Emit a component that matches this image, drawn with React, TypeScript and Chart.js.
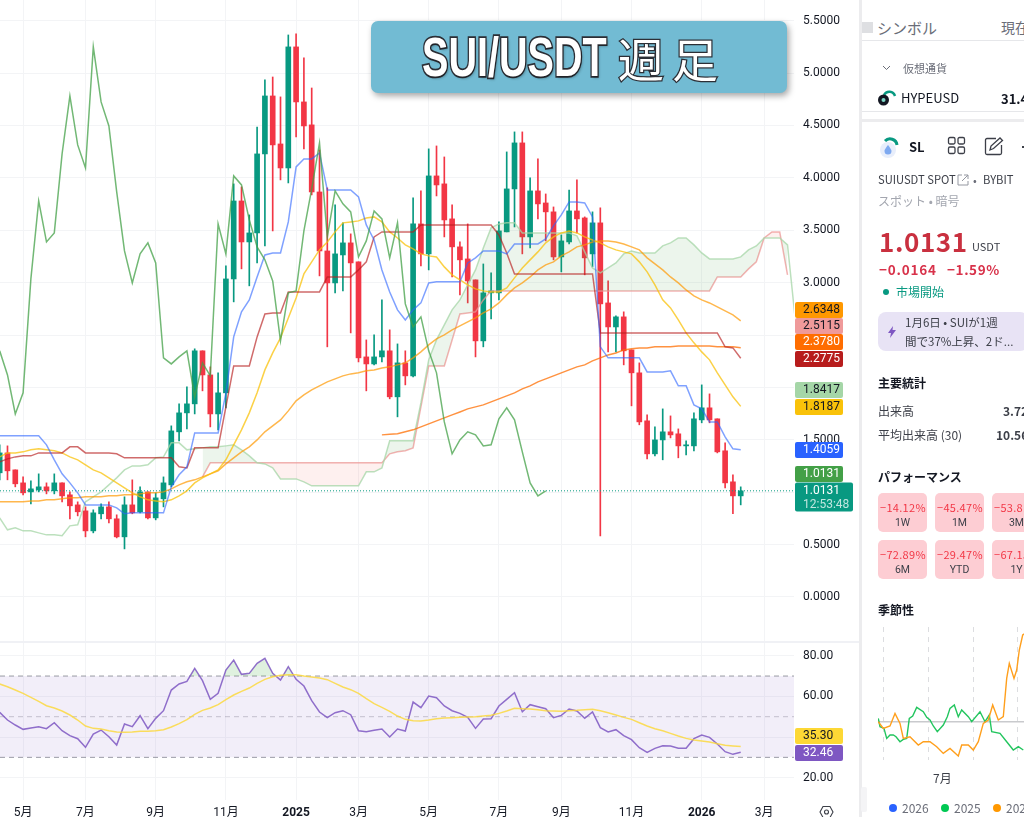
import React, { useEffect, useRef } from "react";
import { Chart, registerables } from "chart.js";

Chart.register(...registerables);

// ---- main pane: weekly candles, first bar is index -1 ----
const opens = [1.185,1.375,1.213,1.089,1.003,1.022,1.051,1.013,1.089,.975,.879,.822,.631,.794,.860,.746,.574,.879,.813,1.003,.755,.937,1.070,1.576,1.757,1.843,2.349,2.119,1.747,1.948,3.035,3.779,3.388,3.474,4.228,4.781,4.323,4.094,5.249,4.724,4.505,3.865,3.302,2.997,3.264,3.379,3.198,2.291,2.224,2.291,2.349,1.910,2.234,2.110,3.560,3.274,4.018,3.942,3.608,3.341,3.226,3.026,2.444,2.902,2.902,3.484,3.894,4.333,3.436,3.875,3.760,3.675,3.245,3.388,3.684,3.617,3.274,3.570,2.806,2.577,2.673,2.358,2.139,1.681,1.366,1.499,1.576,1.557,1.442,1.442,1.690,1.805,1.700,1.395,1.099,.965];
const highs = [1.452,1.442,1.213,1.146,1.108,1.175,1.089,1.175,1.089,1.003,.908,.860,.832,.889,.908,.784,.956,1.118,1.051,1.003,.994,1.146,1.633,1.843,2.005,2.368,2.349,2.196,2.139,3.159,3.942,3.913,3.646,4.485,4.934,4.962,4.772,5.363,5.373,5.144,4.857,4.266,3.904,3.741,3.570,3.465,3.198,2.453,2.501,2.835,2.549,2.415,2.349,3.808,3.875,4.276,4.304,4.199,3.741,3.388,3.560,3.026,3.178,3.093,3.579,4.247,4.438,4.438,3.999,4.180,3.846,3.722,3.455,3.884,3.980,3.627,3.675,3.713,3.016,2.682,2.721,2.358,2.234,1.738,1.623,1.795,1.728,1.604,1.490,1.757,2.024,1.938,1.700,1.471,1.166,1.051];
const lows = [1.118,1.118,1.051,.975,.889,1.003,.984,.984,.908,.746,.774,.574,.612,.746,.708,.564,.459,.794,.803,.746,.736,.860,1.051,1.490,1.604,1.747,1.967,1.623,1.595,1.805,2.816,3.131,2.969,3.188,3.350,3.493,3.980,3.951,4.390,4.276,3.837,3.064,2.387,2.902,2.921,2.520,2.243,1.967,2.215,2.243,1.891,1.719,2.024,2.100,3.159,3.121,3.827,3.436,3.054,2.883,2.806,2.291,2.387,2.654,2.835,3.484,3.531,3.274,3.331,3.608,3.398,3.217,3.102,3.369,3.474,3.074,3.150,.584,2.339,2.339,2.215,1.824,1.643,1.318,1.347,1.309,1.518,1.328,1.356,1.395,1.662,1.662,1.375,1.041,.794,.879];
const closes = [1.375,1.204,1.080,.994,1.032,1.051,1.013,1.089,.965,.870,.813,.631,.803,.860,.746,.574,.879,.803,1.003,.755,.946,1.089,1.585,1.757,1.843,2.349,2.119,1.747,1.948,3.035,3.779,3.388,3.474,4.228,4.781,4.314,4.094,5.249,4.724,4.495,3.865,3.302,2.997,3.274,3.379,3.188,2.282,2.224,2.291,2.349,1.910,2.234,2.110,3.560,3.274,4.018,3.932,3.598,3.341,3.217,3.016,2.444,2.902,2.921,3.493,3.894,4.333,3.436,3.875,3.751,3.675,3.245,3.398,3.684,3.608,3.236,3.570,2.797,2.577,2.673,2.349,2.139,1.671,1.366,1.499,1.576,1.547,1.442,1.452,1.700,1.805,1.690,1.385,1.089,.965,1.0131];

const conversionLine = [1.538,1.538,1.538,1.538,1.538,1.538,1.452,1.309,1.175,1.089,.994,.879,.879,.879,.879,.851,.794,.803,.803,.803,.803,.803,1.051,1.166,1.242,1.566,1.566,1.566,1.566,1.948,2.482,2.721,2.835,3.054,3.264,3.283,3.283,3.579,4.104,4.18,4.18,4.237,3.884,3.884,3.884,3.884,3.818,3.55,3.407,3.121,2.911,2.74,2.644,2.74,2.806,2.997,3.007,3.007,3.007,3.007,3.188,3.236,3.302,3.302,3.302,3.274,3.369,3.369,3.369,3.369,3.417,3.541,3.646,3.77,3.77,3.76,3.627,2.387,2.282,2.282,2.282,2.282,2.282,2.148,2.148,2.148,2.158,2.015,2.015,1.833,1.795,1.671,1.671,1.528,1.414,1.4059];
const baseLine = [1.289,1.318,1.337,1.347,1.347,1.375,1.375,1.375,1.375,1.433,1.433,1.375,1.375,1.375,1.375,1.366,1.328,1.328,1.328,1.328,1.328,1.328,1.328,1.242,1.232,1.423,1.423,1.423,1.423,1.814,2.205,2.205,2.205,2.482,2.701,2.711,2.711,2.911,2.911,2.911,2.911,2.911,3.054,3.054,3.054,3.054,3.121,3.198,3.436,3.484,3.484,3.484,3.484,3.484,3.55,3.55,3.55,3.55,3.55,3.55,3.55,3.55,3.55,3.55,3.455,3.283,3.083,3.083,3.083,3.083,3.083,3.083,3.083,3.083,3.083,3.083,3.083,2.52,2.52,2.52,2.52,2.52,2.52,2.52,2.52,2.52,2.52,2.52,2.52,2.52,2.52,2.52,2.52,2.387,2.377,2.2775];
const fastAverage = [1.337,1.375,1.375,1.385,1.404,1.414,1.404,1.395,1.375,1.337,1.309,1.261,1.213,1.185,1.137,1.089,1.041,.994,.956,.927,.917,.908,.927,.965,1.013,1.089,1.137,1.175,1.213,1.309,1.452,1.595,1.757,1.948,2.167,2.329,2.472,2.663,2.854,3.083,3.198,3.312,3.388,3.484,3.57,3.579,3.589,3.617,3.627,3.579,3.484,3.426,3.36,3.322,3.274,3.255,3.245,3.15,3.074,3.026,2.978,2.94,2.921,2.911,2.911,2.95,3.045,3.14,3.217,3.293,3.379,3.436,3.474,3.493,3.474,3.436,3.407,3.379,3.341,3.312,3.293,3.274,3.198,3.102,2.978,2.835,2.759,2.644,2.52,2.425,2.339,2.263,2.139,2.024,1.91,1.8187];
const midAverage = [.908,.908,.908,.908,.917,.917,.927,.927,.937,.946,.946,.956,.956,.956,.965,.965,.975,.975,.984,.994,.994,1.003,1.032,1.07,1.099,1.118,1.146,1.175,1.204,1.27,1.328,1.385,1.433,1.499,1.576,1.633,1.69,1.776,1.872,1.929,1.976,2.015,2.053,2.081,2.11,2.129,2.139,2.158,2.167,2.186,2.196,2.215,2.234,2.282,2.339,2.406,2.463,2.501,2.549,2.587,2.625,2.663,2.711,2.749,2.806,2.883,2.95,2.997,3.054,3.121,3.169,3.198,3.255,3.293,3.341,3.36,3.388,3.398,3.398,3.388,3.369,3.341,3.312,3.236,3.178,3.121,3.054,2.997,2.93,2.873,2.835,2.806,2.768,2.73,2.692,2.6348];
// starts at bar 48
const slowAverage = [1.547,1.552,1.557,1.576,1.595,1.623,1.652,1.681,1.709,1.738,1.766,1.795,1.814,1.833,1.862,1.891,1.919,1.948,1.986,2.015,2.053,2.081,2.11,2.139,2.167,2.196,2.215,2.253,2.282,2.31,2.329,2.358,2.368,2.377,2.377,2.387,2.387,2.387,2.396,2.396,2.396,2.396,2.396,2.387,2.387,2.387,2.378];
// cloud: span A from bar -1, span B from bar 25, both run past the last candle
const leadingSpanA = [.755,.641,.66,.631,.631,.612,.593,.593,.584,.679,.689,.908,.956,1.003,1.07,1.137,1.213,1.251,1.251,1.261,1.328,1.337,1.471,1.471,1.404,1.414,1.423,1.433,1.433,1.442,1.452,1.404,1.347,1.28,1.27,1.232,1.127,1.127,1.127,1.099,1.061,1.061,1.061,1.061,1.061,1.061,1.061,1.194,1.194,1.232,1.49,1.49,1.49,1.49,1.852,2.263,2.453,2.596,2.74,2.835,2.978,3.121,3.331,3.522,3.56,3.57,3.57,3.474,3.474,3.474,3.474,3.474,3.474,3.474,3.446,3.293,3.14,3.093,3.14,3.188,3.274,3.302,3.283,3.283,3.283,3.35,3.379,3.426,3.426,3.36,3.283,3.226,3.226,3.226,3.226,3.245,3.312,3.35,3.426,3.426,3.426,3.36,2.644];
const leadingSpanB = [1.146,1.28,1.28,1.28,1.28,1.28,1.28,1.28,1.28,1.28,1.28,1.28,1.28,1.28,1.28,1.28,1.28,1.28,1.28,1.28,1.28,1.28,1.28,1.28,1.366,1.385,1.395,1.423,1.814,2.205,2.205,2.205,2.453,2.701,2.711,2.721,2.835,2.921,2.921,2.921,2.921,2.921,2.921,2.921,2.921,2.921,2.921,2.921,2.921,2.921,2.921,2.921,2.921,2.921,2.921,2.921,2.921,2.921,2.921,2.921,2.921,2.921,2.921,2.921,2.921,2.921,3.054,3.054,3.054,3.054,3.131,3.198,3.426,3.484,3.484,3.074];
const lastPrice = 1.0131;
const laggingShift = 25;

// ---- RSI pane ----
const rsiValues = [52.13,48.36,45.9,43.77,44.43,45.08,44.1,47.05,43.11,40.66,39.18,34.92,41.48,43.44,40.16,36.07,46.39,45.08,50.49,44.1,49.18,52.95,63.11,66.07,67.38,73.77,67.7,58.52,61.48,72.95,77.87,70.82,71.31,76.23,78.69,71.31,68.03,74.59,68.36,65.08,57.87,52.3,49.51,51.97,52.95,50.98,43.11,42.62,43.28,43.93,40,43.93,42.95,57.21,54.43,60.16,59.34,55.25,52.95,51.64,49.67,44.26,48.85,49.02,55.25,58.52,61.8,52.46,55.9,54.92,53.93,49.51,50.66,53.77,52.79,49.18,52.3,44.59,42.46,43.61,40.66,38.69,34.75,32.46,34.43,35.74,35.57,34.43,34.43,39.18,40.98,39.84,36.56,32.79,31.48,32.46];
const rsiAverage = [66.07,64.75,63.11,61.48,59.51,57.54,55.41,54.26,52.79,50.82,48.36,45.41,44.26,43.93,43.11,42.46,42.3,42.46,42.79,42.79,43.11,43.61,44.92,46.56,48.52,51.15,53.11,54.26,55.9,58.36,60.66,62.46,64.1,66.39,68.36,69.67,70.33,70.66,70.66,70,69.51,69.02,68.2,66.39,64.59,63.28,61.48,58.85,56.39,54.59,52.62,50.33,48.69,48.03,47.87,48.36,49.02,49.34,49.51,49.67,49.84,50,50.33,50.66,51.64,52.79,54.1,53.93,53.77,53.44,52.95,52.79,52.62,52.95,53.11,53.44,53.61,52.95,51.97,50.82,49.67,48.69,47.05,45.41,44.1,43.11,41.8,40.49,39.34,38.52,38.03,37.54,36.72,35.9,35.57,35.3];
const rsiBands = [70, 50, 30];

// ---- axes ----
const priceTicks = [0, .5, 1, 1.5, 2, 2.5, 3, 3.5, 4, 4.5, 5, 5.5];
const hiddenPriceLabels = [1, 2, 2.5];
const rsiTicks = [20, 40, 60, 80];
const hiddenRsiLabels = [40];
const timeTickBars = [2, 10, 19, 28, 37, 45, 54, 63, 71, 80, 89, 97];
const timeTickLabels = ["5月", "7月", "9月", "11月", "2025", "3月", "5月", "7月", "9月", "11月", "2026", "3月"];

// ---- price tags ----
const priceTagValues = [2.6348, 2.5115, 2.378, 2.2775, 1.8417, 1.8187, 1.4059, 1.0131];
const rsiTagValues = [35.3, 32.46];

// ---- seasonality mini chart ----
const seasonDays2025 = [.3,2,6,8.7,12,15.3,18,22,25.3,28.7,31.3,34.7,38.7,45.3,48.7,52,55.3,59.3,65.3,69.3,72,76.3,80.3,83.7,90.3,93.7,102,107,111.3,113.7,122,128.7,135.3,140.3,145.3];
const seasonValues2025 = [3.3,-5,-6.7,-16.7,-13.3,-13.3,-15,-20,-17.7,-16.7,3.3,5.7,14.3,10,4.3,1.7,-4.3,-10,-3.3,5,13.3,16.7,5,11.7,5,0,10,0,6.7,-10,-11.7,-20,-28.3,-25,-28.3];
const seasonDays2024 = [.3,5.3,12,17,22,25.3,32,40.3,45.3,52,58.7,65.3,72,80.3,83.7,90.3,95.3,100.3,105.3,110.3,114.7,120.3,125.3,128.7,131.3,136,138.7,141.3,144.7,147];
const seasonValues2024 = [0,-6.7,-4.3,8.3,-1.7,-16.7,-15,-23.3,-20,-20,-25,-31.7,-26.7,-34.3,-23.3,-23.3,-28.3,-20,-1.7,1.7,16.7,1.7,5,43.3,58.3,43.3,51.7,71.7,86.7,88.3];
const seasonMonthDays = [5, 50, 95, 139];

const performanceCards = [
  ["−14.12%", "1W"], ["−45.47%", "1M"], ["−53.81%", "3M"],
  ["−72.89%", "6M"], ["−29.47%", "YTD"], ["−67.15%", "1Y"],
];

const FONT = 'Roboto, "Noto Sans CJK JP", sans-serif';
const UP = "#089981";
const DOWN = "#f23645";
const GRID = "#f3f4f6";
const TEXT = "#131722";
const X_MIN = -0.96;
const X_MAX = 100.83;

const series = (start: number, values: number[]) => values.map((y, i) => ({ x: start + i, y }));

const line = (label: string, data: any[], color: string, extra: any = {}) => ({
  type: "line", label, data, borderColor: color, borderWidth: 1.5, pointRadius: 0, tension: 0, fill: false, order: 1, ...extra,
});

const tagPlugin = (tags: any[]) => ({
  id: "tags",
  afterDraw(chart: any) {
    const { ctx } = chart;
    ctx.save();
    ctx.textBaseline = "middle";
    ctx.font = `12px ${FONT}`;
    tags.forEach((t) => {
      ctx.fillStyle = t.bg;
      ctx.beginPath();
      ctx.roundRect(795, t.y - t.h / 2, t.w, t.h, 2);
      ctx.fill();
      ctx.fillStyle = t.fg;
      ctx.textAlign = "left";
      ctx.fillText(t.text, 803, t.textY ?? t.y);
      if (t.sub) {
        ctx.globalAlpha = 0.75;
        ctx.fillText(t.sub, 803, t.subY);
        ctx.globalAlpha = 1;
      }
    });
    ctx.restore();
  },
});

function useChart(ref: any, build: () => any) {
  useEffect(() => {
    const chart = new Chart(ref.current, build());
    return () => chart.destroy();
  }, []);
}

const noPadding = (s: any) => {
  s.paddingTop = 0;
  s.paddingBottom = 0;
  s.paddingLeft = 0;
  s.paddingRight = 0;
};

const timeAxis = (showLabels: boolean, height: number) => ({
  type: "linear",
  offset: false,
  min: X_MIN,
  max: X_MAX,
  border: { display: false },
  grid: { color: GRID, drawTicks: false, offset: false },
  afterBuildTicks: (s: any) => { s.ticks = timeTickBars.map((value) => ({ value })); },
  afterFit: (s: any) => { s.height = height; noPadding(s); },
  ticks: {
    display: showLabels,
    autoSkip: false,
    maxRotation: 0,
    padding: 6,
    color: TEXT,
    font: (c: any) => ({ family: FONT, size: 12, weight: timeTickLabels[c.index]?.length === 4 ? "bold" : "normal" }),
    callback: (_: any, i: number) => timeTickLabels[i],
  },
});

const valueAxis = (min: number, max: number, ticks: number[], hidden: number[], digits: number) => ({
  position: "right",
  min,
  max,
  border: { display: false },
  grid: { color: GRID, drawTicks: false },
  afterBuildTicks: (s: any) => { s.ticks = ticks.map((value) => ({ value })); },
  afterFit: (s: any) => { s.width = 66; noPadding(s); },
  ticks: {
    padding: 9,
    color: TEXT,
    font: { family: FONT, size: 12 },
    callback: (v: number) => (hidden.includes(v) ? "" : v.toFixed(digits)),
  },
});

const baseOptions = {
  responsive: false,
  animation: false,
  devicePixelRatio: 1,
  layout: { padding: 0 },
  plugins: { legend: { display: false }, tooltip: { enabled: false } },
  events: [],
};

function mainConfig() {
  const bars = closes.map((_, i) => i - 1);
  const colors = closes.map((c, i) => (c >= opens[i] ? UP : DOWN));
  const tagStyle = [
    { y: 310, bg: "#ff9800", fg: TEXT },
    { y: 326, bg: "#ef9a9a", fg: TEXT },
    { y: 342, bg: "#ff6d00", fg: "#fff" },
    { y: 359, bg: "#b71c1c", fg: "#fff" },
    { y: 390, bg: "#a5d6a7", fg: TEXT },
    { y: 407, bg: "#f9c20a", fg: TEXT },
    { y: 450, bg: "#2962ff", fg: "#fff" },
    { y: 474, bg: "#43a047", fg: "#fff" },
  ];
  const tags: any[] = priceTagValues.map((v, i) => ({ ...tagStyle[i], h: 16, w: 48, text: v.toFixed(4) }));
  tags.push({ y: 497, h: 29, w: 58, bg: UP, fg: "#fff", text: lastPrice.toFixed(4), textY: 491, sub: "12:53:48", subY: 505 });
  return {
    type: "bar",
    data: {
      datasets: [
        line("Span A", series(-1, leadingSpanA), "rgba(165,214,167,.75)", {
          fill: { target: 1, above: "rgba(67,160,71,.1)", below: "rgba(244,67,54,.08)" }, order: 2,
        }),
        line("Span B", series(25, leadingSpanB), "rgba(239,154,154,.75)", { order: 2 }),
        line("Lagging", series(-1, closes.slice(laggingShift)), "rgba(67,160,71,.75)"),
        line("Conversion", series(-1, conversionLine), "rgba(41,98,255,.6)"),
        line("Base", series(-1, baseLine), "rgba(183,28,28,.65)"),
        line("MA fast", series(-1, fastAverage), "rgba(249,194,10,.75)"),
        line("MA mid", series(-1, midAverage), "rgba(255,152,0,.7)"),
        line("MA slow", series(48, slowAverage), "rgba(255,109,0,.75)"),
        line("Last", [{ x: X_MIN, y: lastPrice }, { x: X_MAX, y: lastPrice }], UP, { borderWidth: 1, borderDash: [1, 2] }),
        {
          type: "bar", label: "Body", order: 3, grouped: false, barThickness: 5, backgroundColor: colors,
          data: bars.map((x, i) => ({ x, y: [opens[i], closes[i]] })),
        },
        {
          type: "bar", label: "Wick", order: 4, grouped: false, barThickness: 1, backgroundColor: colors,
          data: bars.map((x, i) => ({ x, y: [lows[i], highs[i]] })),
        },
      ],
    },
    options: {
      ...baseOptions,
      scales: { x: timeAxis(false, 0), y: valueAxis(-0.4294, 5.6966, priceTicks, hiddenPriceLabels, 4) },
    },
    plugins: [tagPlugin(tags)],
  };
}

function rsiConfig() {
  const bandX = [X_MIN, X_MAX];
  const band = (v: number) => bandX.map((x) => ({ x, y: v }));
  const tags = [
    { y: 736, bg: "#fdd835", fg: TEXT },
    { y: 753, bg: "#7e57c2", fg: "#fff" },
  ].map((t, i) => ({ ...t, y: t.y - 642, h: 16, w: 48, text: rsiTagValues[i].toFixed(2) }));
  return {
    type: "line",
    data: {
      datasets: [
        line("RSI", series(-1, rsiValues), "rgba(126,87,194,.85)", {
          order: 1,
          fill: { target: { value: rsiBands[0] }, above: "rgba(76,175,80,.18)", below: "rgba(0,0,0,0)" },
        }),
        line("RSI MA", series(-1, rsiAverage), "rgba(253,216,53,.8)", { order: 0 }),
        line("Upper", band(rsiBands[0]), "rgba(120,123,134,.75)", {
          order: 3, borderWidth: 1, borderDash: [5, 4], fill: { target: 3 }, backgroundColor: "rgba(126,87,194,.1)",
        }),
        line("Lower", band(rsiBands[2]), "rgba(120,123,134,.75)", { order: 3, borderWidth: 1, borderDash: [5, 4] }),
        line("Middle", band(rsiBands[1]), "rgba(120,123,134,.4)", { order: 3, borderWidth: 1, borderDash: [5, 4] }),
      ],
    },
    options: {
      ...baseOptions,
      scales: { x: timeAxis(true, 17), y: valueAxis(9.02, 86.74, rsiTicks, hiddenRsiLabels, 2) },
    },
    plugins: [tagPlugin(tags)],
  };
}

function seasonConfig() {
  return {
    type: "line",
    data: {
      datasets: [
        line("2025", seasonDays2025.map((x, i) => ({ x, y: seasonValues2025[i] })), "#22c55e", { order: 1, borderWidth: 1.4 }),
        line("2024", seasonDays2024.map((x, i) => ({ x, y: seasonValues2024[i] })), "#ff9f1c", { order: 0, borderWidth: 1.4 }),
      ],
    },
    options: {
      ...baseOptions,
      scales: {
        x: {
          type: "linear", min: 0, max: 146, border: { display: false, dash: [5, 5] },
          ticks: { display: false },
          grid: { color: "#dcdde0", drawTicks: false, lineWidth: 1 },
          afterBuildTicks: (s: any) => { s.ticks = seasonMonthDays.map((value) => ({ value })); },
          afterFit: (s: any) => { s.height = 0; noPadding(s); },
        },
        y: {
          min: -38.3, max: 94.7, border: { display: false },
          ticks: { display: false },
          grid: { color: "#c9cacd", drawTicks: false, lineWidth: 1.5 },
          afterBuildTicks: (s: any) => { s.ticks = [{ value: 0 }]; },
          afterFit: (s: any) => { s.width = 0; noPadding(s); },
        },
      },
    },
  };
}

const T = ({ x, y, s = 12, c = TEXT, b = false, ls = 0, children }: any) => (
  <div style={{
    position: "absolute", left: x, top: y, transform: "translateY(-50%)", fontSize: s, color: c,
    fontWeight: b ? 700 : 400, whiteSpace: "nowrap", lineHeight: 1, letterSpacing: ls,
    fontFamily: '"Noto Sans CJK JP", Roboto, sans-serif',
  }}>{children}</div>
);

const Box = ({ x, y, w, h, bg, r = 0, children }: any) => (
  <div style={{ position: "absolute", left: x, top: y, width: w, height: h, background: bg, borderRadius: r }}>{children}</div>
);

function Sidebar() {
  const ink = "#3c3f48";
  const gray = "#6a6d78";
  const red = "#f23645";
  const cardX = [878, 935, 992];
  const cardY = [493, 540];
  return (
    <>
      <Box x={859} y={0} w={3} h={817} bg="#ececee" />
      <Box x={862} y={22} w={11} h={11} bg="#dedfe2" />
      <T x={877} y={27} s={15} c={gray}>シンボル</T>
      <T x={1001} y={27} s={14} c={gray}>現在</T>
      <Box x={862} y={40} w={162} h={1} bg="#e6e7ea" />
      <svg style={{ position: "absolute", left: 882, top: 65 }} width="9" height="6"><path d="M1 1l3.5 3.5L8 1" fill="none" stroke={gray} /></svg>
      <T x={903} y={68} s={11} c={gray}>仮想通貨</T>
      <svg style={{ position: "absolute", left: 877, top: 89 }} width="20" height="18">
        <path d="M7 6a6 6 0 0 1 11 1" fill="none" stroke="#089981" strokeWidth="2.5" />
        <circle cx="6.5" cy="11" r="5.5" fill="#131722" />
        <circle cx="6.5" cy="11" r="2" fill="#7fd8c8" />
      </svg>
      <T x={901} y={97} s={13}>HYPEUSD</T>
      <T x={1001} y={98} s={13} b>31.4</T>
      <Box x={862} y={111} w={162} h={1} bg="#e6e7ea" />
      <Box x={862} y={119} w={162} h={3} bg="#ececee" />
      <svg style={{ position: "absolute", left: 877, top: 134 }} width="28" height="26">
        <circle cx="11" cy="16" r="8" fill="#e8eefb" />
        <path d="M11 11c-3 4-3.5 5-3.5 6a3.5 3.5 0 0 0 7 0c0-1-.5-2-3.5-6z" fill="#7ea9f0" />
        <path d="M8 7a7 7 0 0 1 12 4" fill="none" stroke="#089981" strokeWidth="3" />
      </svg>
      <T x={909} y={146} s={13} b>SL</T>
      <svg style={{ position: "absolute", left: 947, top: 136 }} width="20" height="20" fill="none" stroke="#3c3f48" strokeWidth="1.3">
        <rect x="1.5" y="1.5" width="6.5" height="6.5" rx="1.5" /><rect x="11" y="1.5" width="6.5" height="6.5" rx="1.5" />
        <rect x="1.5" y="11" width="6.5" height="6.5" rx="1.5" /><rect x="11" y="11" width="6.5" height="6.5" rx="1.5" />
      </svg>
      <svg style={{ position: "absolute", left: 984, top: 136 }} width="20" height="20" fill="none" stroke="#3c3f48" strokeWidth="1.3">
        <path d="M12 2.5H3a1.5 1.5 0 0 0-1.5 1.5v13A1.5 1.5 0 0 0 3 18.5h13a1.5 1.5 0 0 0 1.5-1.5V9" />
        <path d="M6 14l1-4 9-8 2.5 2.5-9 8z" />
      </svg>
      <Box x={1022} y={146} w={2} h={2} bg={ink} />
      <T x={878} y={180} s={11.2} c={ink}>SUIUSDT SPOT</T>
      <svg style={{ position: "absolute", left: 957, top: 174 }} width="12" height="12" fill="none" stroke="#9598a1"><path d="M5 1H1v10h10V7M7 1h4v4M11 1L5 7" /></svg>
      <T x={973} y={180} s={11} c={gray}>•</T>
      <T x={983} y={180} s={11.2} c={ink}>BYBIT</T>
      <T x={878} y={201} s={12} c="#a3a6af">スポット • 暗号</T>
      <T x={879} y={241} s={26} b c="#c9303f" ls={0.6}>1.0131</T>
      <T x={972} y={246} s={11} c={ink}>USDT</T>
      <T x={879} y={270} s={13.5} b c="#d8324a" ls={0.8}>−0.0164</T>
      <T x={947} y={270} s={13.5} b c="#d8324a" ls={0.6}>−1.59%</T>
      <Box x={883} y={289} w={6} h={6} r={3} bg="#089981" />
      <T x={896} y={292} s={12} c="#089981">市場開始</T>
      <Box x={878} y={312} w={150} h={39} r={8} bg="#e8e3f5" />
      <svg style={{ position: "absolute", left: 888, top: 326 }} width="8" height="12"><path d="M5 0L0 7h3L2 12l6-8H4.5z" fill="#7e57c2" /></svg>
      <T x={905} y={323} s={11.5} c={ink}>1月6日 • SUIが1週</T>
      <T x={905} y={342} s={11.5} c={ink}>間で37%上昇、2ド...</T>
      <T x={878} y={383} s={12} b>主要統計</T>
      <T x={878} y={411} s={12} c={ink}>出来高</T>
      <T x={1003} y={411} s={12} b c={ink}>3.72M</T>
      <T x={878} y={435} s={12} c={ink}>平均出来高 (30)</T>
      <T x={996} y={435} s={12} b c={ink}>10.56M</T>
      <T x={878} y={477} s={12} b>パフォーマンス</T>
      {performanceCards.map(([pct, label], i) => (
        <Box key={label} x={cardX[i % 3]} y={cardY[Math.floor(i / 3)]} w={49} h={39} r={5} bg="#fdcdd3">
          <T x={2} y={14} s={11} c={red} ls={0.3}>{pct}</T>
          <div style={{ position: "absolute", left: 0, right: 0, top: 30, transform: "translateY(-50%)", textAlign: "center", fontSize: 10.5, color: ink, lineHeight: 1, fontFamily: FONT }}>{label}</div>
        </Box>
      ))}
      <T x={878} y={610} s={12} b>季節性</T>
      <T x={933} y={778} s={12} c={ink}>7月</T>
      {[[893, "#2962ff", "2026"], [945, "#00c853", "2025"], [997, "#ff9800", "2024"]].map(([x, color, label]: any) => (
        <React.Fragment key={label}>
          <Box x={x - 4} y={804} w={8} h={8} r={4} bg={color} />
          <T x={x + 9} y={808} s={12} c={gray}>{label}</T>
        </React.Fragment>
      ))}
      <Box x={861} y={787} w={6} h={25} r={2} bg="#f4f4f6" />
    </>
  );
}

export default function App() {
  const mainRef = useRef<HTMLCanvasElement>(null);
  const rsiRef = useRef<HTMLCanvasElement>(null);
  const seasonRef = useRef<HTMLCanvasElement>(null);
  useChart(mainRef, mainConfig);
  useChart(rsiRef, rsiConfig);
  useChart(seasonRef, seasonConfig);
  return (
    <div style={{ position: "fixed", left: 0, top: 0, width: 1024, height: 817, overflow: "hidden", background: "#fff" }}>
      <canvas ref={mainRef} width={860} height={642} style={{ position: "absolute", left: 0, top: 0 }} />
      <canvas ref={rsiRef} width={860} height={175} style={{ position: "absolute", left: 0, top: 642 }} />
      <Box x={0} y={641} w={859} h={2} bg="#f0f1f5" />
      <svg style={{ position: "absolute", left: 819, top: 805 }} width="15" height="14" fill="none" stroke="#3c3f48" strokeWidth="1.1">
        <path d="M4 1.5h7l3 5.5-3 5.5H4L1 7z" /><circle cx="7.5" cy="7" r="2" />
      </svg>
      <div style={{
        position: "absolute", left: 371, top: 21, width: 416, height: 72, borderRadius: 7, background: "#72bbd3",
        boxShadow: "2px 3px 6px rgba(0,0,0,.35)",
      }}>
        <span style={{
          position: "absolute", left: 51, top: 2, fontFamily: '"Liberation Sans"', fontWeight: 700, fontSize: 55, lineHeight: "68px",
          color: "#fff", WebkitTextStroke: "3.5px #2c2f36", paintOrder: "stroke fill", textShadow: "2px 2px 3px rgba(0,0,0,.3)",
          transform: "scaleX(.72)", transformOrigin: "left center", whiteSpace: "nowrap",
        }}>SUI/USDT</span>
        <span style={{
          position: "absolute", left: 247, top: 2, fontFamily: '"Noto Sans CJK JP"', fontWeight: 400, fontSize: 46, lineHeight: "68px", letterSpacing: 8,
          color: "#fff", WebkitTextStroke: "2.5px #2c2f36", paintOrder: "stroke fill", whiteSpace: "nowrap",
        }}>週足</span>
      </div>
      <canvas ref={seasonRef} width={146} height={133} style={{ position: "absolute", left: 878, top: 627 }} />
      <Sidebar />
    </div>
  );
}
